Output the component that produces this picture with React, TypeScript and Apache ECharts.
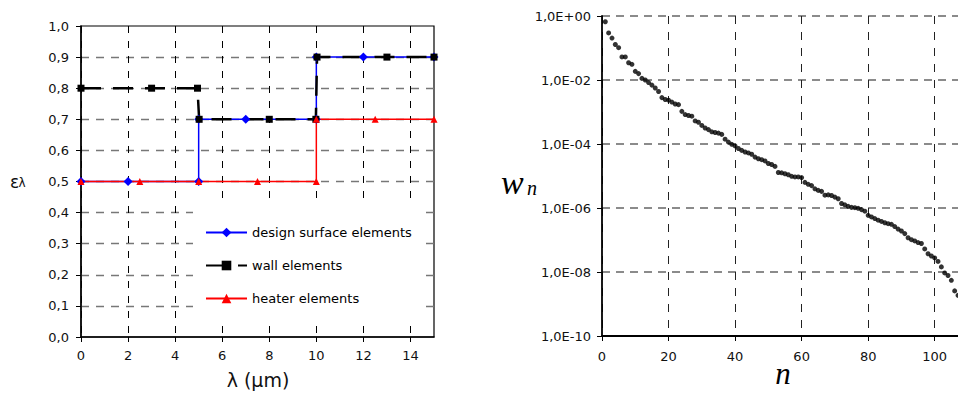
import React, { useEffect, useRef } from "react";
import * as echarts from "echarts";

// Left chart: spectral emissivity vs wavelength
const designPoints = [[0, 0.5], [2, 0.5], [5, 0.5], [5, 0.7], [7, 0.7], [10, 0.7], [10, 0.9], [12, 0.9], [15, 0.9]];
const wallPoints = [[0, 0.8], [3, 0.8], [4.95, 0.8], [5.02, 0.7], [8, 0.7], [9.98, 0.7], [10.03, 0.9], [13, 0.9], [15, 0.9]];
const heaterPoints = [[0, 0.5], [2.5, 0.5], [5, 0.5], [7.5, 0.5], [10, 0.5], [10, 0.7], [12.5, 0.7], [15, 0.7]];
const seriesNames = ["design surface elements", "wall elements", "heater elements"];

// Right chart: log10(w_n) for n = 1..107
const wExp = [
  -0.18, -0.53, -0.69, -0.89, -0.99, -1.28, -1.28, -1.46, -1.51, -1.73,
  -1.80, -1.95, -2.00, -2.08, -2.16, -2.25, -2.36, -2.55, -2.61, -2.63,
  -2.69, -2.75, -2.77, -2.98, -3.08, -3.11, -3.13, -3.28, -3.32, -3.42,
  -3.50, -3.55, -3.62, -3.64, -3.66, -3.70, -3.85, -3.94, -4.01, -4.06,
  -4.14, -4.20, -4.25, -4.28, -4.32, -4.41, -4.46, -4.49, -4.53, -4.61,
  -4.64, -4.70, -4.89, -4.90, -4.93, -4.96, -5.01, -5.03, -5.03, -5.05,
  -5.20, -5.26, -5.30, -5.40, -5.45, -5.48, -5.60, -5.59, -5.61, -5.66,
  -5.71, -5.86, -5.90, -5.95, -5.98, -5.99, -6.01, -6.05, -6.10, -6.23,
  -6.28, -6.33, -6.38, -6.42, -6.46, -6.49, -6.51, -6.58, -6.66, -6.72,
  -6.80, -6.93, -6.99, -7.03, -7.08, -7.11, -7.28, -7.43, -7.50, -7.56,
  -7.67, -7.84, -8.03, -8.11, -8.26, -8.59, -8.73,
];
const rightYLabels = ["1,0E-10", "1,0E-08", "1,0E-06", "1,0E-04", "1,0E-02", "1,0E+00"];

const FONT = "DejaVu Sans";

export default function App() {
  const ref = useRef<HTMLDivElement>(null);
  useEffect(() => {
    if (!ref.current) return;
    const chart = echarts.init(ref.current, null, { renderer: "svg" });
    const labelStyle = { fontFamily: FONT, fontSize: 13, color: "#111" };
    const option: any = {
      animation: false,
      backgroundColor: "#fff",
      grid: [
        { left: 81, top: 26, width: 353, height: 311, show: true, borderColor: "#000", borderWidth: 1.2, backgroundColor: "transparent" },
        { left: 602, top: 16, width: 357, height: 320 },
      ],
      xAxis: [
        {
          gridIndex: 0, type: "value", min: 0, max: 15, interval: 2,
          axisLine: { onZero: false, lineStyle: { color: "#000", width: 1.5 } },
          axisTick: { show: true, length: 5, lineStyle: { color: "#000" } },
          axisLabel: { ...labelStyle, margin: 12, showMaxLabel: false },
          splitLine: { show: true, showMaxLine: false, lineStyle: { color: "#000", width: 1, type: [7, 8] } },
        },
        {
          gridIndex: 1, type: "value", min: 0, max: 107, interval: 20,
          axisLine: { onZero: false, lineStyle: { color: "#000", width: 1.8 } },
          axisTick: { show: true, length: 5, lineStyle: { color: "#000" } },
          axisLabel: { ...labelStyle, margin: 14, showMaxLabel: false },
          splitLine: { show: true, showMaxLine: false, lineStyle: { color: "#222", width: 1, type: [8, 8] } },
        },
      ],
      yAxis: [
        {
          gridIndex: 0, type: "value", min: 0, max: 1, interval: 0.1,
          axisLine: { show: true, onZero: false, lineStyle: { color: "#000", width: 1.5 } },
          axisTick: { show: true, length: 5, lineStyle: { color: "#000" } },
          axisLabel: { ...labelStyle, margin: 12, formatter: (v: number) => v.toFixed(1).replace(".", ",") },
          splitLine: { show: true, showMaxLine: false, showMinLine: false, lineStyle: { color: "#777", width: 1.4, type: [8, 7] } },
        },
        {
          gridIndex: 1, type: "value", min: -10, max: 0, interval: 2,
          axisLine: { show: true, onZero: false, lineStyle: { color: "#000", width: 1.8 } },
          axisTick: { show: true, length: 5, lineStyle: { color: "#000" } },
          axisLabel: {
            ...labelStyle, margin: 11,
            formatter: (v: number) => rightYLabels[Math.round((v + 10) / 2)],
          },
          splitLine: { show: true, showMinLine: false, lineStyle: { color: "#666", width: 1.6, type: [8, 6] } },
        },
      ],
      legend: {
        orient: "vertical",
        left: 193, top: 201,
        padding: [25, 12, 15, 12],
        backgroundColor: "#fff",
        itemWidth: 41, itemHeight: 12, itemGap: 20,
        textStyle: { fontFamily: FONT, fontSize: 13, color: "#000" },
        data: seriesNames,
      },
      series: [
        {
          name: seriesNames[0], type: "line", xAxisIndex: 0, yAxisIndex: 0,
          data: designPoints, symbol: "diamond", symbolSize: 9,
          lineStyle: { color: "#0000ff", width: 1.5 }, itemStyle: { color: "#0000ff" },
        },
        {
          name: seriesNames[1], type: "line", xAxisIndex: 0, yAxisIndex: 0,
          data: wallPoints, symbol: "rect", symbolSize: 7,
          lineStyle: { color: "#000", width: 2.5, type: [20, 12] }, itemStyle: { color: "#000" },
        },
        {
          name: seriesNames[2], type: "line", xAxisIndex: 0, yAxisIndex: 0,
          data: heaterPoints, symbol: "triangle", symbolSize: 7,
          lineStyle: { color: "#ff0000", width: 1.5 }, itemStyle: { color: "#ff0000" },
        },
        {
          name: "w", type: "scatter", xAxisIndex: 1, yAxisIndex: 1,
          data: wExp.map((e, i) => [i + 1, e]),
          symbol: "circle", symbolSize: 5, itemStyle: { color: "#000" },
        },
      ],
      graphic: [
        { type: "text", x: 258, y: 380, style: { text: "λ (μm)", font: `19px "${FONT}"`, fill: "#111", textAlign: "center", textVerticalAlign: "middle" } },
        { type: "text", x: 10, y: 181.5, style: { text: "ε", font: `17px "${FONT}"`, fill: "#111", textAlign: "left", textVerticalAlign: "middle" } },
        { type: "text", x: 18.5, y: 183, style: { text: "λ", font: `12px "${FONT}"`, fill: "#111", textAlign: "left", textVerticalAlign: "middle" } },
        { type: "text", x: 501, y: 182, style: { text: "w", font: `italic 34px "Liberation Serif"`, fill: "#000", textAlign: "left", textVerticalAlign: "middle" } },
        { type: "text", x: 527, y: 188, style: { text: "n", font: `italic 20px "Liberation Serif"`, fill: "#000", textAlign: "left", textVerticalAlign: "middle" } },
        { type: "text", x: 783, y: 373, style: { text: "n", font: `italic 31px "Liberation Serif"`, fill: "#000", textAlign: "center", textVerticalAlign: "middle" } },
      ],
    };
    chart.setOption(option);
    return () => chart.dispose();
  }, []);
  return <div ref={ref} style={{ position: "absolute", left: 0, top: 0, width: 958, height: 394 }} />;
}
